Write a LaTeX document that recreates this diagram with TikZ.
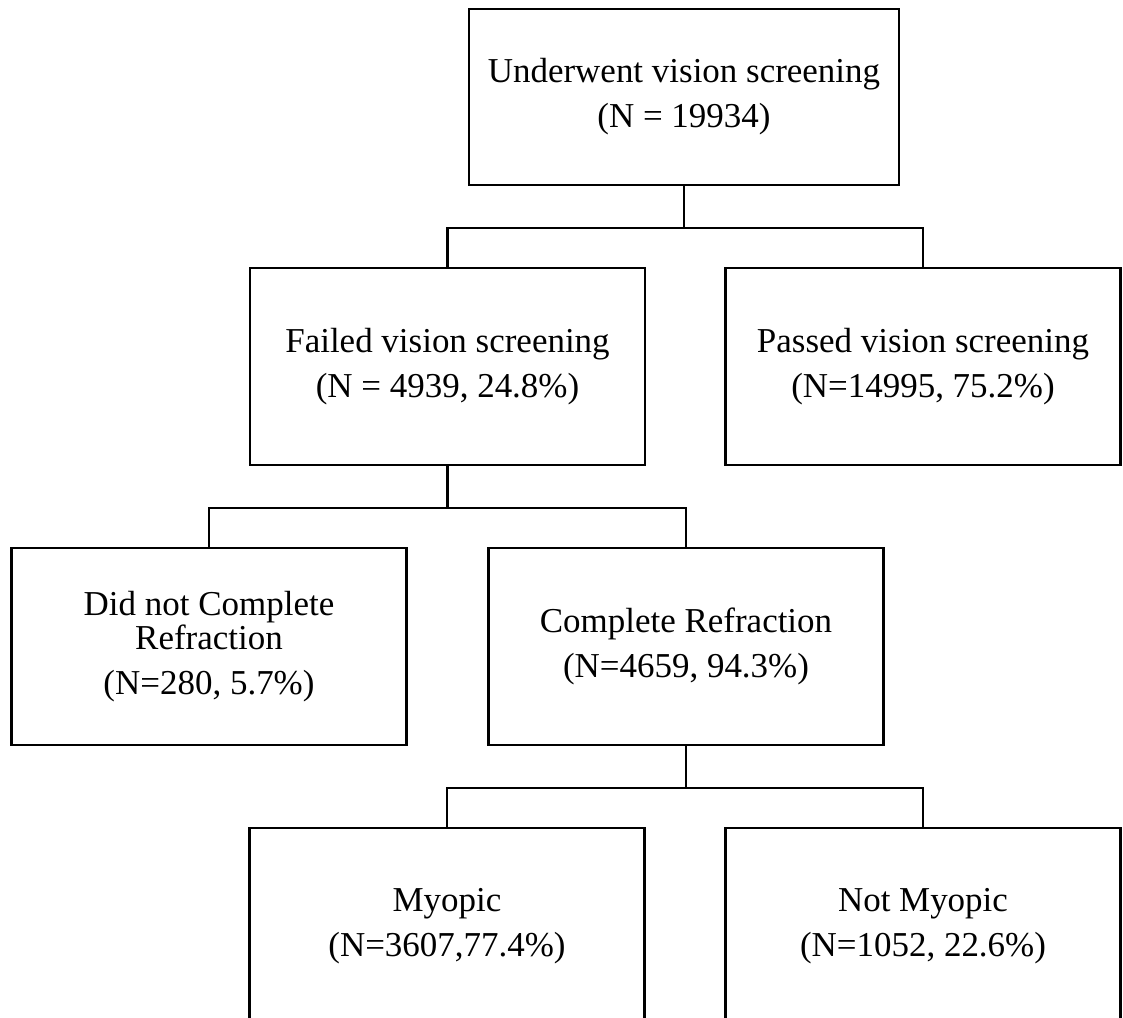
\documentclass[tikz,border=0pt]{standalone}
\usepackage{fontspec}
\setmainfont{Liberation Serif}
\usetikzlibrary{positioning}

\begin{document}
\begin{tikzpicture}[
    x=0.02cm, y=-0.02cm,
    every node/.style={inner sep=0pt},
    box/.style={draw, line width=1.3pt, align=center,
        minimum width=7.9cm, minimum height=3.94cm,
        font=\fontsize{19.9}{25.6}\selectfont},
    link/.style={line width=1.3pt}
]
\useasboundingbox (0,0) rectangle (1123,1018);

% Primer nivel
\node[box, minimum width=8.6cm, minimum height=3.52cm] (under) at (684,97)
    {Underwent vision screening\\(N = 19934)};

% Segundo nivel
\node[box] (failed) at (447.5,366.5)
    {Failed vision screening\\(N = 4939, 24.8\%)};
\node[box] (passed) at (923,366.5)
    {Passed vision screening\\(N=14995, 75.2\%)};

% Tercer nivel
\node[box] (noref) at (209,646.5)
    {Did not Complete\\[-0.33em]Refraction\\(N=280, 5.7\%)};
\node[box] (ref) at (686,646.5)
    {Complete Refraction\\(N=4659, 94.3\%)};

% Cuarto nivel
\node[box] (myopic) at (447,926.5)
    {Myopic\\(N=3607,77.4\%)};
\node[box] (notmyopic) at (923,926.5)
    {Not Myopic\\(N=1052, 22.6\%)};

% Conectores
\draw[link] (under.south) -- ++(0,42) -| (failed.north);
\draw[link] (under.south) -- ++(0,42) -| (passed.north);
\draw[link] (failed.south) -- ++(0,42) -| (noref.north);
\draw[link] (failed.south) -- ++(0,42) -| (ref.north);
\draw[link] (ref.south) -- ++(0,42) -| (myopic.north);
\draw[link] (ref.south) -- ++(0,42) -| (notmyopic.north);

\end{tikzpicture}
\end{document}
